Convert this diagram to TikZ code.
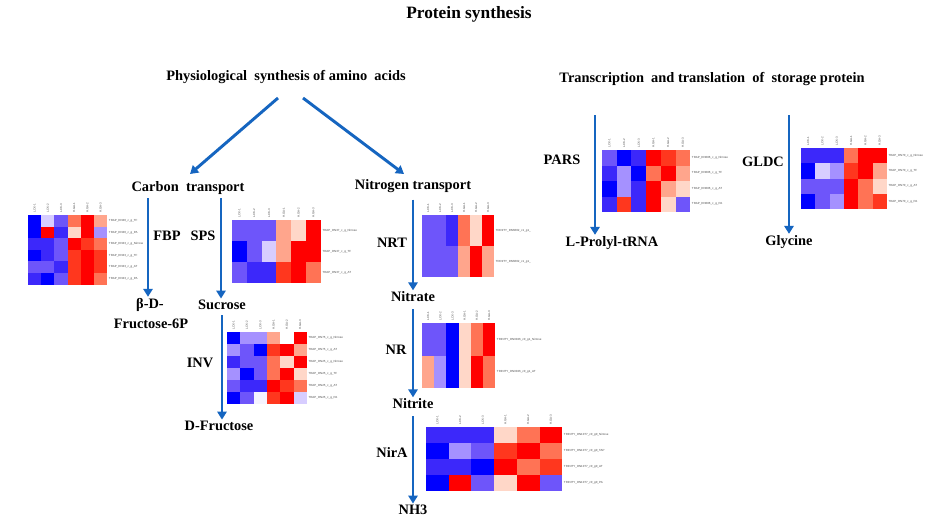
\documentclass[tikz,border=0pt]{standalone}
\usepackage{fontspec}
\setmainfont{Liberation Serif}
\newfontfamily\labfont{Liberation Sans}
\usetikzlibrary{arrows.meta}
\definecolor{B0}{RGB}{0,0,255}
\definecolor{B1}{RGB}{60,40,250}
\definecolor{B2}{RGB}{110,85,250}
\definecolor{B3}{RGB}{165,145,255}
\definecolor{B4}{RGB}{215,205,255}
\definecolor{W0}{RGB}{245,243,255}
\definecolor{W}{RGB}{255,255,255}
\definecolor{R4}{RGB}{255,215,200}
\definecolor{R3}{RGB}{255,165,140}
\definecolor{R2}{RGB}{255,115,85}
\definecolor{R1}{RGB}{255,55,30}
\definecolor{R0}{RGB}{255,0,0}
\definecolor{arrblue}{RGB}{21,101,192}
\newcommand{\myheatmap}[6]{%
  \foreach \hrow [count=\hi] in {#5} {
    \foreach \hcol [count=\hj] in \hrow {
      \fill[\hcol] ({#1+(\hj-1)*#3},{#2+(\hi-1)*#4}) rectangle ++(#3,#4);
    }
  }
  \foreach \hlab [count=\hi] in {#6} {
    \node[rowlab] at ({#1+6*#3+1.5},{#2+(\hi-0.5)*#4}) {\hlab};
  }
  \foreach \hlab [count=\hj] in {L.CK-1,L.CK-2,L.CK-3,H.GA-1,H.GA-2,H.GA-3} {
    \node[collab] at ({#1+(\hj-0.5)*#3},{#2-2}) {\hlab};
  }
}
\begin{document}
\begin{tikzpicture}[x=0.75pt,y=-0.75pt,
  lbl/.style={font=\bfseries\fontsize{10.8}{12}\selectfont, inner sep=1pt},
  rowlab/.style={font=\labfont\fontsize{2.2}{2.5}\selectfont, text=black!70, anchor=west, inner sep=0pt},
  collab/.style={font=\labfont\fontsize{2.2}{2.5}\selectfont, text=black!70, anchor=west, rotate=90, inner sep=0pt},
  arr/.style={draw=arrblue, line width=2.2pt, -{Triangle[width=7pt,length=6pt]}}]
\useasboundingbox[fill=white] (0,0) rectangle (938,517);

% texts
\node[lbl, font=\bfseries\fontsize{13}{15}\selectfont] (title) at (469,14) {Protein synthesis};
\node[lbl] (psa) at (286,77) {Physiological\ \ synthesis of amino\ \ acids};
\node[lbl] (tts) at (712,79) {Transcription\ \ and translation\ \ of\ \ storage protein};
\node[lbl] (ct) at (188,188) {Carbon\ \ transport};
\node[lbl] (nt) at (413,186) {Nitrogen transport};
\node[lbl] (fbp) at (167,236) {FBP};
\node[lbl] (sps) at (203,236) {SPS};
\node[lbl] (bd) at (150,305) {β-D-};
\node[lbl] (f6p) at (151,324) {Fructose-6P};
\node[lbl] (suc) at (222,305) {Sucrose};
\node[lbl] (inv) at (200,363) {INV};
\node[lbl] (dfr) at (219,426) {D-Fructose};
\node[lbl] (nrt) at (392,243) {NRT};
\node[lbl] (nitrate) at (413,297) {Nitrate};
\node[lbl] (nr) at (396,350) {NR};
\node[lbl] (nitrite) at (413,404) {Nitrite};
\node[lbl] (nira) at (392,452) {NirA};
\node[lbl] (nh3) at (413,510) {NH3};
\node[lbl] (pars) at (562,160) {PARS};
\node[lbl] (gldc) at (763,162) {GLDC};
\node[lbl] (lpt) at (612,243) {L-Prolyl-tRNA};
\node[lbl] (gly) at (789,242) {Glycine};

% arrows
\coordinate (psaL) at (278,98);
\coordinate (psaR) at (303,98);
\coordinate (ctTip) at (190,174);
\coordinate (ntTip) at (404,174);
\draw[arr] (psaL) -- (ctTip);
\draw[arr] (psaR) -- (ntTip);
\coordinate (fbpTop) at (148,198);
\coordinate (spsTop) at (221,198);
\draw[arr] (fbpTop) -- (fbpTop |- bd.north);
\draw[arr] (spsTop) -- (spsTop |- suc.north);
\draw[arr] (suc.south) ++(0,4) -- (suc.south |- dfr.north);
\draw[arr] ([yshift=-4]nt.south) -- (nitrate.north);
\draw[arr] ([yshift=-4]nitrate.south) -- (nitrite.north);
\draw[arr] ([yshift=-4]nitrite.south) -- (nh3.north);
\coordinate (parsTop) at (595,115);
\coordinate (gldcTop) at (789,115);
\draw[arr] (parsTop) -- (parsTop |- lpt.north);
\draw[arr] (gldcTop) -- (gldcTop |- gly.north);

% heatmaps
\myheatmap{28}{215}{13.2}{11.6}{{B0,B4,B2,R2,R0,R3},{B0,R0,B1,R4,R0,B3},{B1,B1,B2,R0,R1,R2},{B0,B1,B2,R1,R0,R1},{B2,B2,B1,R1,R0,R1},{B1,B0,B2,R1,R0,R2}}
  {TRAP\_DN30\_c\_g\_TF,TRAP\_DN30\_c\_g\_PA,TRAP\_DN33\_c\_g\_Nirrose,TRAP\_DN33\_c\_g\_TF,TRAP\_DN33\_c\_g\_AT,TRAP\_DN33\_c\_g\_PA}
\myheatmap{232}{220}{14.8}{21}{{B2,B2,B2,R3,R4,R0},{B0,B2,B4,R3,R0,R0},{B2,B1,B1,R1,R0,R2}}
  {TRAP\_DN37\_c\_g\_Nirrose,TRAP\_DN37\_c\_g\_TF,TRAP\_DN37\_c\_g\_AT}
\myheatmap{227}{332}{13.3}{12}{{B0,B3,B3,R3,W,R0},{B3,B2,B0,R1,R0,R3},{B1,B2,B2,R2,R4,R0},{B3,B0,B2,R2,R0,R4},{B2,B1,B1,R0,R1,R2},{B0,B2,W0,R1,R0,B4}}
  {TRAP\_DN75\_c\_g\_Nirrose,TRAP\_DN75\_c\_g\_AT,TRAP\_DN25\_c\_g\_Nirrose,TRAP\_DN25\_c\_g\_TF,TRAP\_DN25\_c\_g\_AT,TRAP\_DN25\_c\_g\_PA}
\myheatmap{422}{215}{12}{31}{{B2,B2,B1,R2,R4,R0},{B2,B2,B2,R3,R0,R3}}
  {TRINITY\_DN6602\_c1\_g1\_,TRINITY\_DN6602\_c1\_g1\_}
\myheatmap{422}{323}{12.2}{32.5}{{B2,B2,B0,R4,R2,R0},{R3,B3,B0,R4,R0,R2}}
  {TRINITY\_DN3026\_c0\_g1\_Nirrose,TRINITY\_DN3026\_c0\_g1\_AT}
\myheatmap{426}{427}{22.7}{16}{{B1,B1,B1,R4,R2,R0},{B0,B3,B2,R1,R0,R2},{B1,B1,B0,R0,R2,R1},{B0,R0,B2,R4,R0,B2}}
  {TRINITY\_DN1077\_c0\_g0\_Nirrose,TRINITY\_DN1077\_c0\_g0\_TAP,TRINITY\_DN1077\_c0\_g0\_AT,TRINITY\_DN1077\_c0\_g0\_PA}
\myheatmap{602}{150}{14.7}{15.5}{{B2,B0,B1,R0,R1,R2},{B1,B3,B0,R2,R0,R3},{B0,B3,B1,R0,R3,R4},{B1,R1,B1,R0,R4,B2}}
  {TRAP\_DN086\_c\_g\_Nirrose,TRAP\_DN086\_c\_g\_TF,TRAP\_DN086\_c\_g\_AT,TRAP\_DN086\_c\_g\_PA}
\myheatmap{801}{148}{14.3}{15.3}{{B1,B1,B1,R2,R0,R0},{B0,B4,B3,R1,R0,R3},{B2,B2,B2,R0,R2,R4},{B0,B2,B3,R0,R2,R1}}
  {TRAP\_DN70\_c\_g\_Nirrose,TRAP\_DN70\_c\_g\_TF,TRAP\_DN70\_c\_g\_AT,TRAP\_DN70\_c\_g\_PA}
\end{tikzpicture}
\end{document}
